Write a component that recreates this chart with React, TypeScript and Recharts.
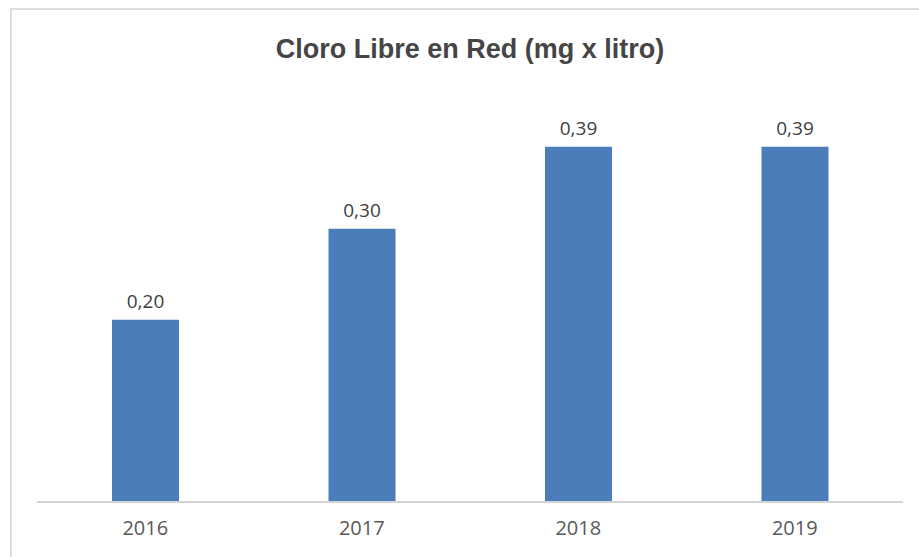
import React from 'react';
import { BarChart, Bar, XAxis, YAxis, LabelList } from 'recharts';

const years = ['2016', '2017', '2018', '2019'];
const cloro = [0.2, 0.3, 0.39, 0.39];

const data = years.map((year, i) => ({ year, valor: cloro[i] }));

const formatoComa = (v: number) => v.toFixed(2).replace('.', ',');

export default function App() {
  return (
    <div
      style={{
        position: 'fixed',
        left: 0,
        top: 0,
        width: 919,
        height: 557,
        overflow: 'hidden',
        background: '#fff',
      }}
    >
      {/* marco gris que sale de la imagen por derecha y abajo */}
      <div
        style={{
          position: 'absolute',
          left: 10,
          top: 8,
          width: 1000,
          height: 700,
          border: '2px solid #dcdcdc',
        }}
      />
      <div
        style={{
          position: 'absolute',
          left: 0,
          top: 36,
          width: 940,
          textAlign: 'center',
          fontFamily: '"Liberation Sans", Arial, sans-serif',
          fontWeight: 'bold',
          fontSize: 27,
          lineHeight: '27px',
          color: '#454545',
        }}
      >
        Cloro Libre en Red (mg x litro)
      </div>
      <div style={{ position: 'absolute', left: 0, top: 0 }}>
        <BarChart
          width={919}
          height={557}
          data={data}
          margin={{ top: 92, right: 16, bottom: 25, left: 37 }}
        >
          <YAxis hide domain={[0, 0.45]} />
          <XAxis
            dataKey="year"
            height={30}
            axisLine={{ stroke: '#d4d4d4', strokeWidth: 2 }}
            tickLine={false}
            tickSize={0}
            tickMargin={19}
            tick={{ fill: '#595959', fontSize: 20, fontFamily: '"Open Sans", sans-serif' }}
          />
          <Bar dataKey="valor" fill="#4a7dba" barSize={67} isAnimationActive={false}>
            <LabelList
              dataKey="valor"
              position="top"
              offset={12}
              formatter={(v: any) => formatoComa(Number(v))}
              style={{ fill: '#404040', fontSize: 19, fontFamily: '"Open Sans", sans-serif' }}
            />
          </Bar>
        </BarChart>
      </div>
    </div>
  );
}
